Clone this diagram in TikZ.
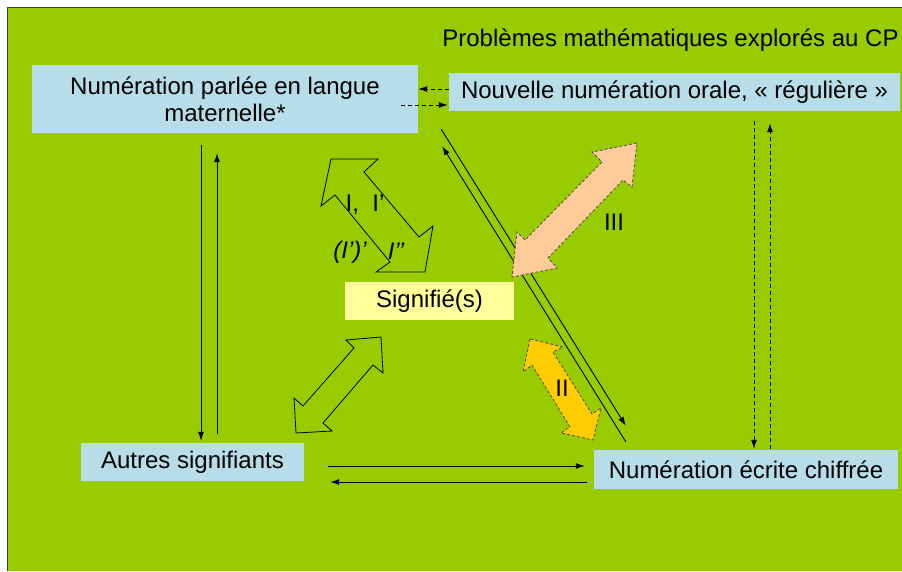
\documentclass[tikz,border=0pt]{standalone}
\usepackage{fontspec}
\setmainfont{Liberation Sans}
\usetikzlibrary{arrows.meta,calc}
\definecolor{bggreen}{HTML}{99CC00}
\definecolor{boxblue}{RGB}{183,222,232}
\definecolor{sigyellow}{HTML}{FFFF99}
\definecolor{salmon}{HTML}{FFCC99}
\definecolor{orangeII}{HTML}{FFCC00}
\begin{document}
\begin{tikzpicture}[x=1pt,y=-1pt,
  font=\fontsize{24}{27}\selectfont,
  box/.style={fill=boxblue, inner sep=0pt, align=center},
  conn/.style={line width=0.9pt, -{Latex[length=9pt,width=6pt]}},
  plainline/.style={line width=0.9pt},
  dconn/.style={conn, dash pattern=on 4pt off 3pt},
  outlinearrow/.style={draw=black, line width=0.8pt},
  filledarrow/.style={draw=black!70, line width=0.8pt, dash pattern=on 3pt off 2pt},
  lbl/.style={inner sep=0pt}]
\useasboundingbox (0,0) rectangle (902,571);
\fill[white] (0,0) rectangle (902,571);
\fill[bggreen] (8,8) rectangle (902,571);
\draw[black!75, line width=1pt] (7.5,571) -- (7.5,7.5) -- (902,7.5);

% nodes
\node[lbl] (title) at (670.5,40) {Problèmes mathématiques explorés au CP};
\node[box, minimum width=386pt, minimum height=68pt] (n1) at (225,99) {Numération parlée en langue\\maternelle*};
\node[box, minimum width=451pt, minimum height=38pt] (n2) at (674.5,92) {Nouvelle numération orale, « régulière »};
\node[fill=sigyellow, inner sep=0pt, minimum width=169pt, minimum height=38pt] (n3) at (429.5,301) {Signifié(s)};
\node[box, minimum width=223pt, minimum height=38pt] (n4) at (192.5,462) {Autres signifiants};
\node[box, minimum width=304pt, minimum height=39pt] (n5) at (746,469.5) {Numération écrite chiffrée};

% dashed horizontal pair between n1 and n2
\draw[dconn] ($(n2.west)+(0,-3)$) -- ($(n1.east)+(0,-10)$);
\draw[dconn] ($(n1.east)+(-17,6)$) -- ($(n2.west)+(-1,13)$);

% dashed vertical pair between n2 and n5
\draw[dconn] ($(n2.south)+(79.5,10)$) -- ($(n5.north)+(8,-1)$);
\draw[dconn] ($(n5.north)+(24,-1)$) -- ($(n2.south)+(95.5,12)$);

% solid vertical pair between n1 and n4
\draw[conn] ($(n1.south)+(-24,12)$) -- ($(n4.north)+(8.5,-2)$);
\draw[conn] ($(n4.north)+(24.5,-9)$) -- ($(n1.south)+(-8,20)$);

% solid horizontal pair between n4 and n5
\draw[conn] ($(n4.east)+(24,4)$) -- ($(n5.west)+(-9,-3.5)$);
\draw[conn] ($(n5.west)+(-7,12.5)$) -- ($(n4.east)+(26,20)$);

% diagonal pair between n1 and n5
\draw[conn] ($(n1.south east)+(23,-4)$) -- ($(n5.north west)+(32,-24)$);
\draw[conn] ($(n5.north west)+(32,-8)$) -- ($(n1.south east)+(24,13)$);

% block double arrows
\draw[outlinearrow] (331,159) -- (378,159) -- (364,172) -- (419,237) -- (433,226) -- (425,272) -- (376,272) -- (390,262) -- (335,195) -- (321,206) -- cycle;
\draw[filledarrow, fill=salmon] (637,143) -- (592,152) -- (602,162) -- (525,240) -- (517,232) -- (512,277) -- (557,268) -- (548,258) -- (623,180) -- (632,187) -- cycle;
\draw[outlinearrow] (381,337) -- (346,340) -- (354,348) -- (303,406) -- (294,398) -- (296,433) -- (332,431) -- (323,423) -- (373,365) -- (383,373) -- cycle;
\draw[filledarrow, fill=orangeII] (530,339) -- (523,372) -- (532,365) -- (570,427) -- (561,433) -- (593,440) -- (601,408) -- (592,414) -- (553,352) -- (563,347) -- cycle;

% labels
\node[lbl] (lI) at (365,205) {I,\ \ I’};
\node[lbl] (lIp) at (350,252) {\itshape (I’)’};
\node[lbl] (lIpp) at (396,251) {\itshape I’’};
\node[lbl] (lIII) at (614,222) {III};
\node[lbl] (lII) at (562,388) {II};
\end{tikzpicture}
\end{document}
